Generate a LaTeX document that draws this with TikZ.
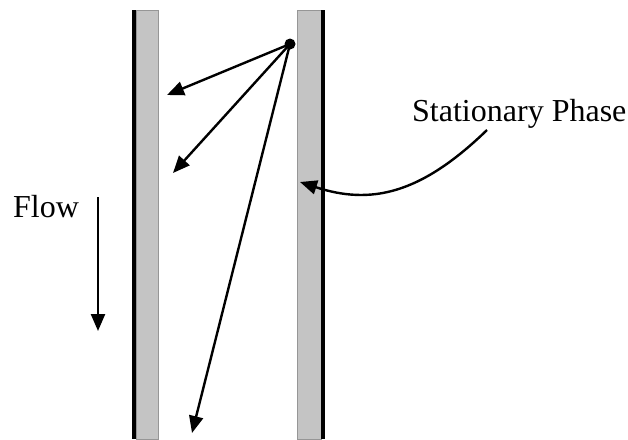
\documentclass[tikz,border=0pt]{standalone}
\usepackage{fontspec}
\setmainfont{Liberation Serif}
\usepackage{tikz}
\usetikzlibrary{arrows.meta}
\definecolor{phasegray}{RGB}{196,196,196}
\definecolor{phaseedge}{RGB}{150,150,150}

\tikzset{
  wall/.style={line width=4pt,black},
  phase/.style={fill=phasegray,draw=phaseedge,line width=0.6pt},
  ray/.style={line width=2.4pt,-{Triangle[length=17pt,width=14pt]}},
  lbl/.style={font=\fontsize{32}{36}\selectfont,inner sep=0pt}
}

\begin{document}
\begin{tikzpicture}[x=1pt,y=-1pt]
        \useasboundingbox (0,0) rectangle (628,439);
        % column walls
        \draw[phase] (136,10) rectangle (158,439);
        \draw[phase] (297,10) rectangle (321,439);
        \draw[wall] (134,10) -- (134,439);
        \draw[wall] (322.5,10) -- (322.5,439);
        % molecule and its paths
        \node[circle,fill,inner sep=0pt,minimum size=11pt] (src) at (290,44) {};
        \coordinate (hitA) at (167,95);
        \coordinate (hitB) at (173,173);
        \coordinate (hitC) at (192,433);
        \draw[ray] (src.center) -- (hitA);
        \draw[ray] (src.center) -- (hitB);
        \draw[ray] (src.center) -- (hitC);
        % flow direction
        \node[lbl,anchor=base west] (flow) at (13,217) {Flow};
        \coordinate (flowtop) at (98,197);
        \coordinate (flowend) at (98,331);
        \draw[ray] (flowtop) -- (flowend);
        % stationary phase label
        \node[lbl,anchor=base west] (statph) at (412,121) {Stationary Phase};
        \coordinate (curvestart) at (487,130);
        \coordinate (wallpt) at (300,182);
        \draw[ray] (curvestart) .. controls (420,195) and (370,205) .. (wallpt);
      \end{tikzpicture}
\end{document}
